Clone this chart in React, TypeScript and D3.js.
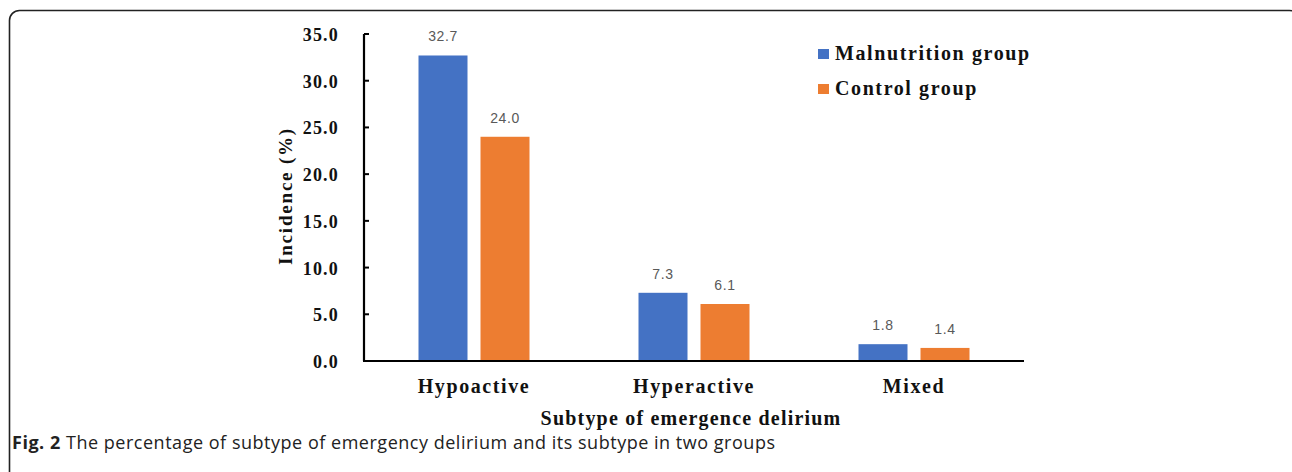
import React from "react";
import * as d3 from "d3";

const categories = ["Hypoactive", "Hyperactive", "Mixed"];
const seriesNames = ["Malnutrition group", "Control group"];
const malnutrition = [32.7, 7.3, 1.8];
const control = [24.0, 6.1, 1.4];
const yTicks = [0, 5, 10, 15, 20, 25, 30, 35];
const colors = ["#4472C4", "#ED7D31"];

const W = 1292;
const H = 472;
const serif = "'Liberation Serif', 'Times New Roman', serif";
const sans = "'Liberation Sans', Arial, sans-serif";

export default function App() {
  const x0 = d3.scaleBand<string>().domain(categories).range([364, 1024]).paddingInner(0).paddingOuter(0);
  const groupW = 111;
  const x1 = d3.scaleBand<string>().domain(seriesNames).range([0, groupW]).paddingInner(13 / 62).paddingOuter(0);
  const y = d3.scaleLinear().domain([0, 35]).range([361, 34]);
  const values = [malnutrition, control];

  return (
    <svg width={W} height={H} style={{ position: "absolute", left: 0, top: 0, background: "#fff" }}>
      <rect x={9.5} y={10.5} width={1290} height={520} rx={10} ry={10} fill="#fff" stroke="#222" strokeWidth={1.6} />
      {/* bars */}
      {categories.map((c, ci) => {
        const gx = x0(c)! + x0.bandwidth() / 2 - groupW / 2;
        return (
          <g key={c}>
            {seriesNames.map((s, si) => {
              const v = values[si][ci];
              const bx = gx + x1(s)!;
              return (
                <g key={s}>
                  <rect x={bx} y={y(v)} width={x1.bandwidth()} height={y(0) - y(v)} fill={colors[si]} />
                  <text x={bx + x1.bandwidth() / 2} y={y(v) - 14} textAnchor="middle" fontFamily={sans} fontSize={14} letterSpacing={0.6} fill="#595959">
                    {v.toFixed(1)}
                  </text>
                </g>
              );
            })}
            <text x={x0(c)! + x0.bandwidth() / 2} y={393} textAnchor="middle" fontFamily={serif} fontWeight="bold" fontSize={20} letterSpacing={1.6} fill="#111">
              {c}
            </text>
          </g>
        );
      })}
      {/* y axis */}
      <line x1={364} x2={364} y1={y(35)} y2={y(0)} stroke="#000" strokeWidth={2.2} />
      {yTicks.map((t) => (
        <g key={t}>
          <line x1={364} x2={369} y1={y(t)} y2={y(t)} stroke="#000" strokeWidth={2} />
          <text x={339} y={y(t) + 7} textAnchor="end" fontFamily={serif} fontWeight="bold" fontSize={18} letterSpacing={1.2} fill="#111">
            {t.toFixed(1)}
          </text>
        </g>
      ))}
      {/* x axis */}
      <line x1={363} x2={1024} y1={y(0)} y2={y(0)} stroke="#000" strokeWidth={2.2} />
      <text transform={`translate(292,196) rotate(-90)`} textAnchor="middle" fontFamily={serif} fontWeight="bold" fontSize={19} letterSpacing={1.8} fill="#111">
        Incidence (%)
      </text>
      <text x={691} y={425} textAnchor="middle" fontFamily={serif} fontWeight="bold" fontSize={20} letterSpacing={1.2} fill="#111">
        Subtype of emergence delirium
      </text>
      {/* legend */}
      {seriesNames.map((s, i) => (
        <g key={s}>
          <rect x={818} y={49 + i * 35} width={11} height={10} fill={colors[i]} />
          <text x={835} y={60 + i * 35} fontFamily={serif} fontWeight="bold" fontSize={20} letterSpacing={1.6} fill="#111">
            {s}
          </text>
        </g>
      ))}
      {/* caption */}
      <text x={12} y={449} fontFamily="'Open Sans', 'Noto Sans', sans-serif" fontSize={18} textLength={763} lengthAdjust="spacing" fill="#222">
        <tspan fontWeight="bold">Fig. 2</tspan>
        <tspan> The percentage of subtype of emergency delirium and its subtype in two groups</tspan>
      </text>
    </svg>
  );
}
